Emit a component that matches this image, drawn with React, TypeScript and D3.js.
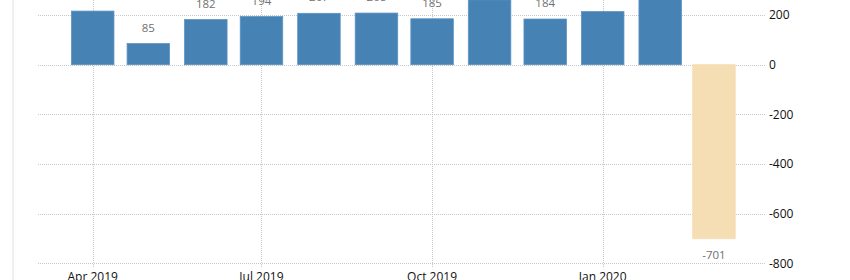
import React from "react";
import * as d3 from "d3";

const months: string[] = [
  "2019-04", "2019-05", "2019-06", "2019-07", "2019-08", "2019-09",
  "2019-10", "2019-11", "2019-12", "2020-01", "2020-02", "2020-03",
];
const values: number[] = [216, 85, 182, 194, 207, 208, 185, 261, 184, 214, 275, -701];
const xTickLabels: string[] = ["Apr 2019", "Jul 2019", "Oct 2019", "Jan 2020"];
const xTickMonths: string[] = ["2019-04", "2019-07", "2019-10", "2020-01"];
const yTicks: number[] = [200, 0, -200, -400, -600, -800];

const W = 850;
const H = 280;

const parse = (s: string) => {
  const [y, m] = s.split("-").map(Number);
  return new Date(y, m - 1, 1);
};

export default function App() {
  const x = d3
    .scaleTime()
    .domain([parse("2019-04"), parse("2020-01")])
    .range([92.7, 602.7]);
  const y = d3.scaleLinear().domain([-800, 200]).range([263.3, 15.05]);
  const gridLeft = 38;
  const gridRight = 766;
  const barW = 42.5;
  const font = "'Open Sans', 'Liberation Sans', Arial, sans-serif";

  return (
    <svg
      width={W}
      height={H}
      style={{ position: "absolute", left: 0, top: 0, background: "#fff" }}
    >
      <rect x={12} y={0} width={2} height={H} fill="#f0f0f0" />
      {/* horizontal grid */}
      {yTicks.map((t) => (
        <line
          key={"h" + t}
          x1={gridLeft}
          x2={gridRight}
          y1={Math.round(y(t)) + 0.5}
          y2={Math.round(y(t)) + 0.5}
          stroke="#c8c8c8"
          strokeDasharray="1,1"
        />
      ))}
      {/* vertical grid */}
      {xTickMonths.map((m) => (
        <line
          key={"v" + m}
          x1={Math.round(x(parse(m))) + 0.5}
          x2={Math.round(x(parse(m))) + 0.5}
          y1={0}
          y2={267}
          stroke="#c8c8c8"
          strokeDasharray="1,1"
        />
      ))}
      {/* bars */}
      {values.map((v, i) => {
        const cx = x(parse(months[i]));
        const y0 = y(0);
        const y1 = y(v);
        const top = Math.min(y0, y1);
        const h = Math.abs(y1 - y0);
        const neg = v < 0;
        return (
          <g key={months[i]}>
            <rect
              x={cx - barW / 2}
              y={top}
              width={barW}
              height={h}
              fill={neg ? "#F5DEB3" : "#4682B4"}
              stroke={neg ? "#F5DEB3" : "#5b93c4"}
              strokeWidth={0.8}
            />
            <text
              x={cx}
              y={neg ? y1 + 20 : y1 - 12}
              textAnchor="middle"
              fontFamily={font}
              fontSize={11.5}
              fill="#707070"
            >
              {v}
            </text>
          </g>
        );
      })}
      {/* y axis labels */}
      {yTicks.map((t) => (
        <text
          key={"yl" + t}
          x={769}
          y={y(t)}
          dy="0.36em"
          fontFamily={font}
          fontSize={12}
          fill="#111"
        >
          {t}
        </text>
      ))}
      {/* x axis labels */}
      {xTickMonths.map((m, i) => (
        <text
          key={"xl" + m}
          x={x(parse(m))}
          y={280.5}
          textAnchor="middle"
          fontFamily={font}
          fontSize={12}
          fill="#111"
        >
          {xTickLabels[i]}
        </text>
      ))}
    </svg>
  );
}
